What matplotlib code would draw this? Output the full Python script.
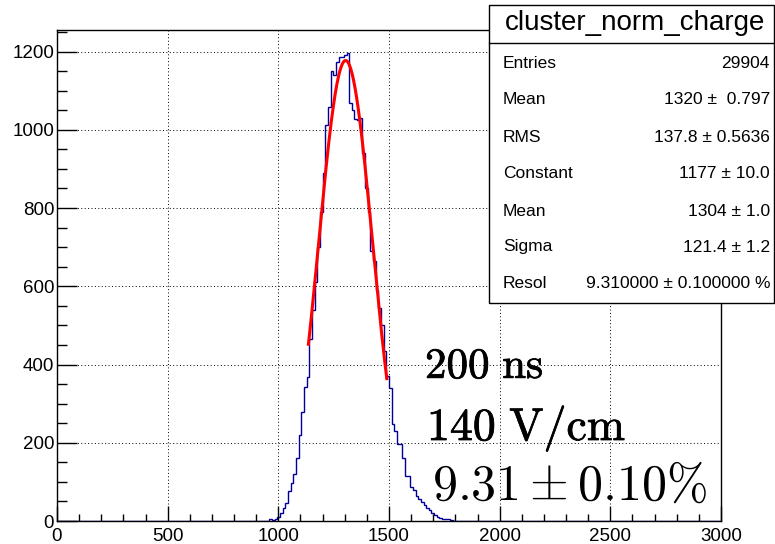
import numpy as np
import matplotlib
matplotlib.use("Agg")
import matplotlib.pyplot as plt
from matplotlib.ticker import MultipleLocator
from matplotlib.patches import Rectangle
from matplotlib.lines import Line2D
import matplotlib.patheffects as pe

# ---------------- data ----------------
x_min, x_max, n_bins = 0, 3000, 250
first_bin = 79  # first listed bin starts at 948
core_counts = [1, 4, 3, 5, 10, 20, 32, 46, 76, 96, 121, 160, 220, 279, 343, 369,
               465, 540, 610, 700, 790, 890, 1013, 1059, 1150, 1140, 1174, 1187, 1187, 1191, 1197,
               1068, 1051, 1028, 1026, 1030, 940, 850, 790, 690, 665, 590, 545,
               500, 435, 370, 340, 249, 231, 197, 197, 160, 116, 116, 87, 80, 65, 57, 48,
               40, 32, 27, 20, 15, 11, 8, 4, 4, 4, 2, 0, 1]
tail_x = [1875, 1970, 2330, 2450, 2510, 2550, 2645, 2810]
tail_counts = [1, 1, 1, 1, 1, 1, 1, 1]

fit_const, fit_mean, fit_sigma = 1177.0, 1304.0, 121.4
fit_range = (1136, 1490)

stats_title = "cluster_norm_charge"
stats_labels = ["Entries", "Mean", "RMS", "Constant", "Mean", "Sigma", "Resol"]
stats_values = ["29904", "1320 \u00b1  0.797", "137.8 \u00b1 0.5636", "1177 \u00b1 10.0",
                "1304 \u00b1 1.0", "121.4 \u00b1 1.2", "9.310000 \u00b1 0.100000 %"]

notes = [r"$200\ \mathrm{ns}$", r"$140\ \mathrm{V/cm}$", r"$9.31 \pm 0.10\%$"]

# ---------------- figure ----------------
plt.rcParams['font.family'] = ['Liberation Sans', 'DejaVu Sans']
plt.rcParams['mathtext.fontset'] = 'cm'

W, H = 775, 544
fig = plt.figure(figsize=(W / 100, H / 100), dpi=100)


def fx(px):
    return px / W


def fy(py):
    return 1 - py / H


ax = fig.add_axes([fx(57), fy(521), (721 - 57) / W, (521 - 30) / H])

bin_width = (x_max - x_min) / n_bins
edges = np.linspace(x_min, x_max, n_bins + 1)
counts = np.zeros(n_bins)
counts[first_bin:first_bin + len(core_counts)] = core_counts
for x, c in zip(tail_x, tail_counts):
    counts[int((x - x_min) // bin_width)] += c

ax.stairs(counts, edges, color='#000099', lw=1.0)

xs = np.linspace(fit_range[0], fit_range[1], 200)
ys = fit_const * np.exp(-0.5 * ((xs - fit_mean) / fit_sigma) ** 2)
ax.plot(xs, ys, color='#ff0000', lw=2.2)

ax.set_xlim(x_min, x_max)
ax.set_ylim(0, 1255)
ax.xaxis.set_major_locator(MultipleLocator(500))
ax.xaxis.set_minor_locator(MultipleLocator(100))
ax.yaxis.set_major_locator(MultipleLocator(200))
ax.yaxis.set_minor_locator(MultipleLocator(50))
ax.tick_params(axis='x', which='major', direction='in', length=10.8, width=1,
               labelsize=13.5, pad=5, top=False)
ax.tick_params(axis='x', which='minor', direction='in', length=5.4, width=1, top=False)
ax.tick_params(axis='y', which='major', direction='in', length=14.4, width=1,
               labelsize=13.5, pad=2, right=False)
ax.tick_params(axis='y', which='minor', direction='in', length=7.2, width=1, right=False)
ax.grid(True, which='major', linestyle=(0, (1, 2.5)), color='black', lw=0.7)
for s in ax.spines.values():
    s.set_linewidth(1.0)

# stats box
box = Rectangle((fx(489), fy(303)), (774 - 489) / W, (303 - 5) / H,
                transform=fig.transFigure, facecolor='white', edgecolor='black',
                lw=1.0, zorder=5)
fig.add_artist(box)
fig.add_artist(Line2D([fx(489), fx(774)], [fy(43), fy(43)], transform=fig.transFigure,
                      color='black', lw=1.0, zorder=6))
fig.text(fx(635), fy(23), stats_title, ha='center', va='center', fontsize=20, zorder=7)
row_y = [63, 100, 137, 174, 211, 247, 284]
for lab, val, yy in zip(stats_labels, stats_values, row_y):
    fig.text(fx(503), fy(yy), lab, ha='left', va='center', fontsize=12.5, zorder=7)
    fig.text(fx(770), fy(yy), val, ha='right', va='center', fontsize=12.5, zorder=7)

# annotations
bold = [pe.withStroke(linewidth=0.55, foreground='black')]
fig.text(fx(425), fy(378), notes[0], fontsize=31, va='baseline', ha='left', path_effects=bold)
fig.text(fx(427), fy(440), notes[1], fontsize=33, va='baseline', ha='left', path_effects=bold)
fig.text(fx(432), fy(500), notes[2], fontsize=36, va='baseline', ha='left')

fig.savefig("out.png", dpi=100)
